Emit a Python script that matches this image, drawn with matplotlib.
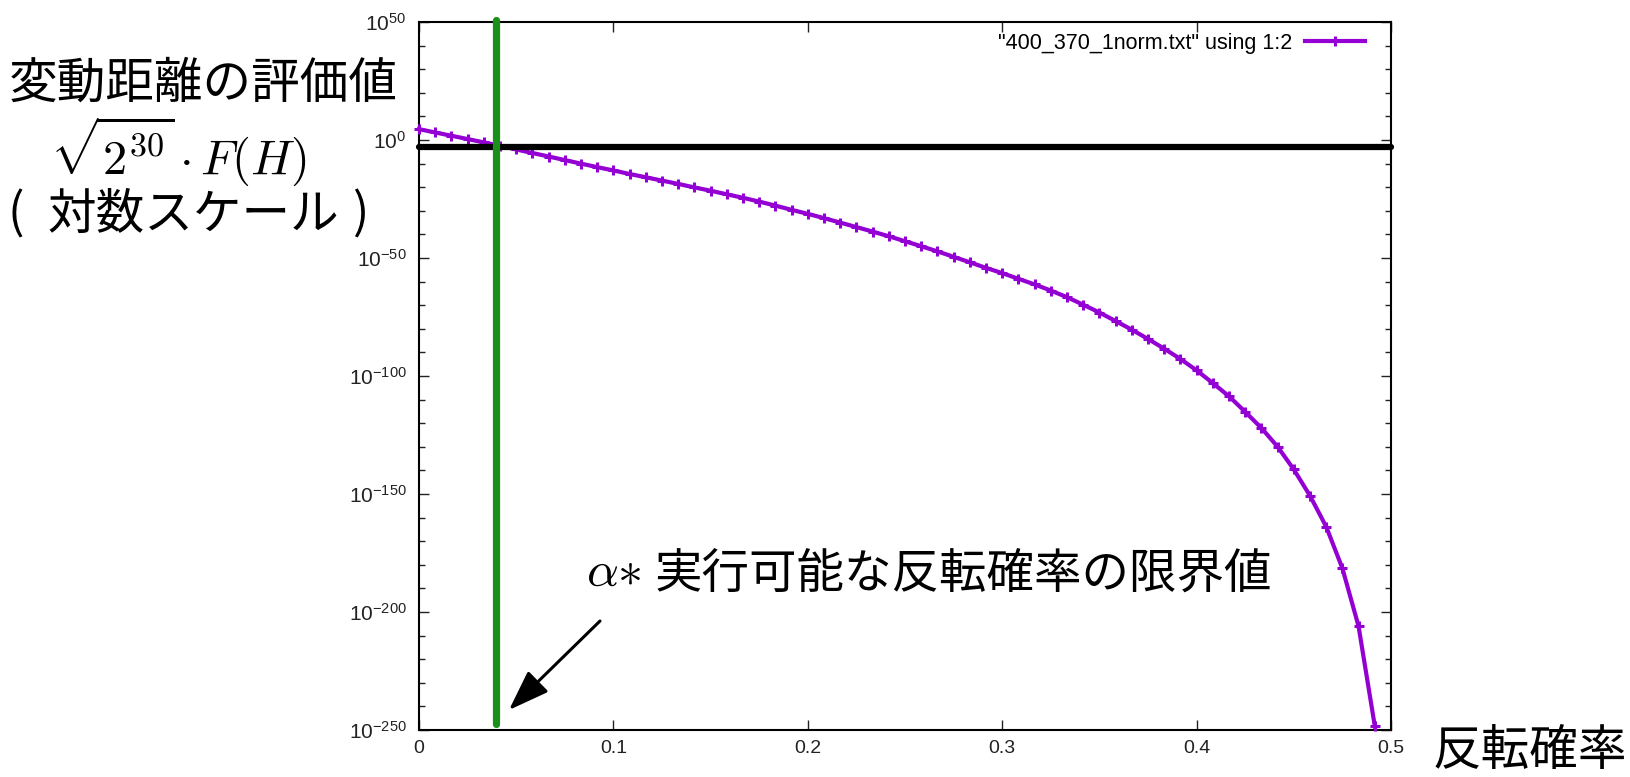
import matplotlib
matplotlib.use("Agg")
import matplotlib.pyplot as plt
import numpy as np
from matplotlib.ticker import FixedLocator, NullFormatter, FixedFormatter

# ---------------- data ----------------
flip_prob = [0, 0.0083, 0.0167, 0.025, 0.0333, 0.0417, 0.05, 0.0583, 0.0667, 0.075,
             0.0833, 0.0917, 0.1, 0.1083, 0.1167, 0.125, 0.1333, 0.1417, 0.15, 0.1583,
             0.1667, 0.175, 0.1833, 0.1917, 0.2, 0.2083, 0.2167, 0.225, 0.2333, 0.2417,
             0.25, 0.2583, 0.2667, 0.275, 0.2833, 0.2917, 0.3, 0.3083, 0.3167, 0.325,
             0.3333, 0.3417, 0.35, 0.3583, 0.3667, 0.375, 0.3833, 0.3917, 0.4, 0.4083,
             0.4167, 0.425, 0.4333, 0.4417, 0.45, 0.4583, 0.4667, 0.475, 0.4833, 0.4917]
# log10 of the evaluation value sqrt(2^30)*F(H)
log10_value = [4.6, 3.2, 1.8, 0.4, -1.0, -2.5, -4.0, -5.5, -7.0, -8.5,
               -10.0, -11.5, -12.9, -14.4, -15.8, -17.2, -18.6, -20.1, -21.5, -23.0,
               -24.5, -26.1, -27.8, -29.6, -31.3, -33.1, -35.0, -36.9, -38.8, -40.8,
               -42.9, -45.0, -47.2, -49.5, -51.8, -54.2, -56.4, -58.8, -61.2, -63.8,
               -66.6, -69.8, -73.1, -76.7, -80.4, -84.3, -88.4, -92.8, -97.6, -103.0,
               -108.6, -115.2, -122.0, -130.0, -139.6, -150.7, -163.9, -181.5, -206.0, -248.5]
threshold_log10 = -2.8
alpha_star = 0.0395

x_ticks = [0, 0.1, 0.2, 0.3, 0.4, 0.5]
x_tick_labels = ["0", "0.1", "0.2", "0.3", "0.4", "0.5"]
y_major_exp = [50, 0, -50, -100, -150, -200, -250]
y_tick_labels = [r"$10^{50}$", r"$10^{0}$", r"$10^{-50}$", r"$10^{-100}$",
                 r"$10^{-150}$", r"$10^{-200}$", r"$10^{-250}$"]
y_minor_exp = [40, 30, 20, 10, -10, -20, -30, -40, -60, -70, -80, -90,
               -110, -120, -130, -140, -160, -170, -180, -190, -210, -220, -230, -240]
legend_label = '"400_370_1norm.txt" using 1:2'

# ---------------- style ----------------
plt.rcParams["font.family"] = ["Liberation Sans", "DejaVu Sans"]
plt.rcParams["mathtext.fontset"] = "custom"
plt.rcParams["mathtext.rm"] = "Liberation Sans"
plt.rcParams["mathtext.it"] = "Liberation Sans:italic"
plt.rcParams["mathtext.bf"] = "Liberation Sans:bold"
plt.rcParams["mathtext.sf"] = "Liberation Sans"

CJK = ["Noto Sans CJK JP", "DejaVu Sans"]
W, H = 1630, 777
fig = plt.figure(figsize=(W / 100, H / 100), dpi=100)
ax = fig.add_axes([419 / W, (H - 730) / H, (1391 - 419) / W, (730 - 22) / H])

yvals = [10.0 ** v for v in log10_value]
ax.plot(flip_prob, yvals, color="#9400d3", lw=3.0, marker="+", ms=7, mew=2.2,
        label=legend_label, clip_on=False, zorder=3)
ax.set_yscale("log")
ax.set_xlim(0, 0.5)
ax.set_ylim(10.0 ** -250, 10.0 ** 50)

# threshold (black) and alpha* (green) lines
ax.axhline(10.0 ** threshold_log10, color="black", lw=4.5, solid_capstyle="round",
           clip_on=False, zorder=4)
ax.axvline(alpha_star, ymin=0.008, ymax=1.003, color="#1a8f1a", lw=5.2,
           solid_capstyle="round", clip_on=False, zorder=5)

ax.xaxis.set_major_locator(FixedLocator(x_ticks))
ax.xaxis.set_major_formatter(FixedFormatter(x_tick_labels))
ax.yaxis.set_major_locator(FixedLocator([10.0 ** e for e in y_major_exp]))
ax.yaxis.set_major_formatter(FixedFormatter(y_tick_labels))
ax.yaxis.set_minor_locator(FixedLocator([10.0 ** e for e in y_minor_exp]))
ax.yaxis.set_minor_formatter(NullFormatter())
ax.xaxis.set_minor_locator(FixedLocator([]))

ax.tick_params(axis="both", which="both", direction="in", top=True, right=True,
               colors="#222222", width=1.0)
ax.tick_params(axis="both", which="major", length=7)
ax.tick_params(axis="both", which="minor", length=4)
ax.tick_params(axis="y", which="major", labelsize=15, pad=9)
ax.tick_params(axis="x", which="major", labelsize=14, pad=7)
for s in ax.spines.values():
    s.set_linewidth(1.5)
    s.set_color("black")

leg = ax.legend(loc="center right", bbox_to_anchor=(1365 / W, 1 - 43 / H),
                bbox_transform=fig.transFigure, frameon=False, markerfirst=False,
                handlelength=2.8, handletextpad=0.6, borderpad=0, borderaxespad=0,
                fontsize=15.5, numpoints=1)

# labels
fig.text(203 / W, 1 - 84 / H, "変動距離の評価値", ha="center", va="center",
         fontsize=35, family=CJK)
fig.text(178 / W, 1 - 152 / H, r"$\sqrt{2^{30}}\,{\cdot}\,F(H)$", ha="center",
         va="center", fontsize=35, math_fontfamily="cm")
fig.text(8 / W, 1 - 215 / H, "(", ha="left", va="center", fontsize=35, family=CJK)
fig.text(193 / W, 1 - 215 / H, "対数スケール", ha="center", va="center",
         fontsize=35, family=CJK)
fig.text(368 / W, 1 - 215 / H, ")", ha="right", va="center", fontsize=35, family=CJK)
fig.text(586 / W, 1 - 586 / H, r"$\alpha{\ast}$", ha="left", va="baseline",
         fontsize=36, math_fontfamily="cm")
fig.text(655 / W, 1 - 575 / H, "実行可能な反転確率の限界値", ha="left",
         va="center", fontsize=34.2, family=CJK)
fig.text(1530 / W, 1 / H, "反転確率", ha="center", va="bottom",
         fontsize=35, family=CJK)

ax.annotate("", xy=(509 / W, 1 - 710 / H), xytext=(600 / W, 1 - 621 / H),
            xycoords="figure fraction", textcoords="figure fraction",
            arrowprops=dict(arrowstyle="-|>,head_length=0.9,head_width=0.32",
                            lw=2.2, color="black", mutation_scale=28,
                            shrinkA=0, shrinkB=0))

fig.savefig("out.png", dpi=100)
